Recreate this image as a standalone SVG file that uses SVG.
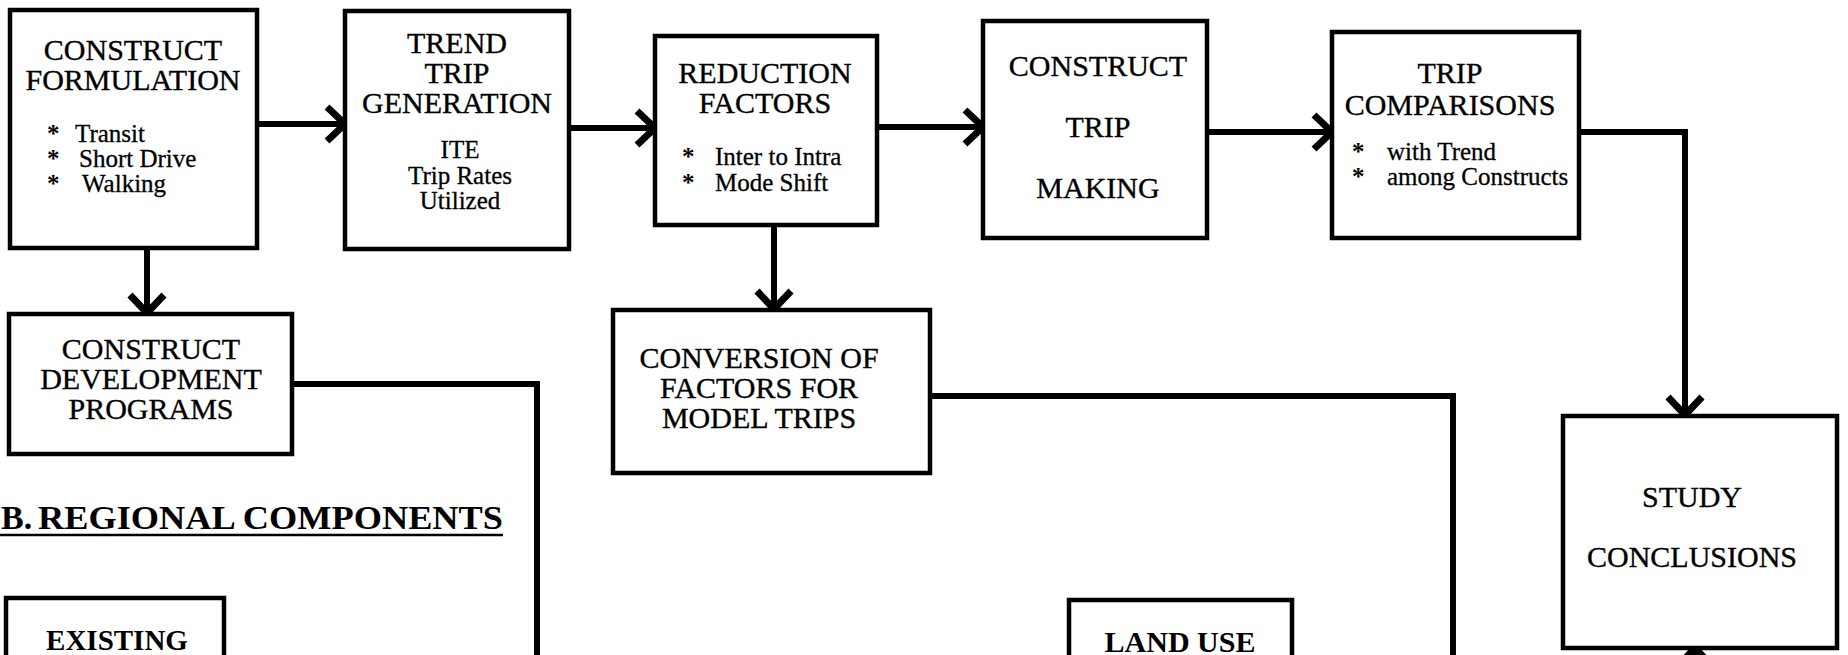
<svg xmlns="http://www.w3.org/2000/svg" width="1848" height="655" viewBox="0 0 1848 655">
<style>
.box{fill:#fff;stroke:#000;stroke-width:4.5}
.t{font-family:"Liberation Serif","Times New Roman",serif;font-size:30px;fill:#000;stroke:#000;stroke-width:0.35;text-anchor:middle}
.s{font-family:"Liberation Serif","Times New Roman",serif;font-size:25px;fill:#000;stroke:#000;stroke-width:0.3}
.sc{font-family:"Liberation Serif","Times New Roman",serif;font-size:25px;fill:#000;stroke:#000;stroke-width:0.3;text-anchor:middle}
.st{font-family:"Liberation Serif","Times New Roman",serif;font-size:25px;font-weight:bold;fill:#000}
.b{font-family:"Liberation Serif","Times New Roman",serif;font-size:30px;font-weight:bold;fill:#000;text-anchor:middle}
.c{fill:none;stroke:#000;stroke-width:6;stroke-linejoin:miter}
</style>
<defs>
<marker id="chev" viewBox="0 0 26 40" refX="22" refY="20" markerWidth="26" markerHeight="40" orient="auto" markerUnits="userSpaceOnUse">
<path d="M4,3 L22,20 L4,37" fill="none" stroke="#000" stroke-width="7"/>
</marker>
</defs>
<rect width="1848" height="655" fill="#fff"/>

<g id="connectors">
<path class="c" d="M257,124 H345" marker-end="url(#chev)"/>
<path class="c" d="M569,128 H655" marker-end="url(#chev)"/>
<path class="c" d="M877,127 H983" marker-end="url(#chev)"/>
<path class="c" d="M1207,132 H1332" marker-end="url(#chev)"/>
<path class="c" d="M1579,132 H1685 V415" marker-end="url(#chev)"/>
<path class="c" d="M147,250 V313" marker-end="url(#chev)"/>
<path class="c" d="M774,225 V309" marker-end="url(#chev)"/>
<path class="c" d="M292,384 H537 V660"/>
<path class="c" d="M930,396 H1453 V660"/>
<path class="c" d="M1695,690 V648" marker-end="url(#chev)"/>
</g>

<g id="construct-formulation">
<rect class="box" x="10" y="10" width="247" height="238"/>
<text class="t" x="133" y="60">CONSTRUCT</text>
<text class="t" x="133" y="90">FORMULATION</text>
<text class="st" x="47" y="142">*</text><text class="s" x="75" y="142">Transit</text>
<text class="st" x="47" y="167">*</text><text class="s" x="79" y="167">Short Drive</text>
<text class="st" x="47" y="192">*</text><text class="s" x="82" y="192">Walking</text>
</g>

<g id="trend-trip-generation">
<rect class="box" x="345" y="11" width="224" height="238"/>
<text class="t" x="457" y="53">TREND</text>
<text class="t" x="457" y="83">TRIP</text>
<text class="t" x="457" y="113">GENERATION</text>
<text class="sc" x="460" y="158">ITE</text>
<text class="sc" x="460" y="184">Trip Rates</text>
<text class="sc" x="460" y="209">Utilized</text>
</g>

<g id="reduction-factors">
<rect class="box" x="655" y="36" width="222" height="189"/>
<text class="t" x="765" y="83">REDUCTION</text>
<text class="t" x="765" y="113">FACTORS</text>
<text class="st" x="682" y="165">*</text><text class="s" x="715" y="165">Inter to Intra</text>
<text class="st" x="682" y="191">*</text><text class="s" x="715" y="191">Mode Shift</text>
</g>

<g id="construct-trip-making">
<rect class="box" x="983" y="21" width="224" height="217"/>
<text class="t" x="1098" y="76">CONSTRUCT</text>
<text class="t" x="1098" y="137">TRIP</text>
<text class="t" x="1098" y="198">MAKING</text>
</g>

<g id="trip-comparisons">
<rect class="box" x="1332" y="32" width="247" height="206"/>
<text class="t" x="1450" y="83">TRIP</text>
<text class="t" x="1450" y="115">COMPARISONS</text>
<text class="st" x="1352" y="160">*</text><text class="s" x="1387" y="160">with Trend</text>
<text class="st" x="1352" y="185">*</text><text class="s" x="1387" y="185">among Constructs</text>
</g>

<g id="study-conclusions">
<rect class="box" x="1563" y="416" width="274" height="232"/>
<text class="t" x="1692" y="507">STUDY</text>
<text class="t" x="1692" y="567">CONCLUSIONS</text>
</g>

<g id="construct-development-programs">
<rect class="box" x="9" y="314" width="283" height="140"/>
<text class="t" x="151" y="359">CONSTRUCT</text>
<text class="t" x="151" y="389">DEVELOPMENT</text>
<text class="t" x="151" y="419">PROGRAMS</text>
</g>

<g id="conversion-of-factors">
<rect class="box" x="613" y="310" width="317" height="163"/>
<text class="t" x="759" y="368">CONVERSION OF</text>
<text class="t" x="759" y="398">FACTORS FOR</text>
<text class="t" x="759" y="428">MODEL TRIPS</text>
</g>

<g id="section-b">
<text class="b" style="text-anchor:start;font-size:34px" y="529"><tspan x="1">B.</tspan><tspan x="38" textLength="465" lengthAdjust="spacingAndGlyphs">REGIONAL COMPONENTS</tspan></text>
<line x1="0" y1="535" x2="503" y2="535" stroke="#000" stroke-width="2.5"/>
</g>

<g id="existing">
<rect class="box" x="6" y="598" width="218" height="80"/>
<text class="b" x="117" y="650" style="font-size:29px">EXISTING</text>
</g>

<g id="land-use">
<rect class="box" x="1069" y="600" width="223" height="80"/>
<text class="b" x="1180" y="652">LAND USE</text>
</g>
</svg>
